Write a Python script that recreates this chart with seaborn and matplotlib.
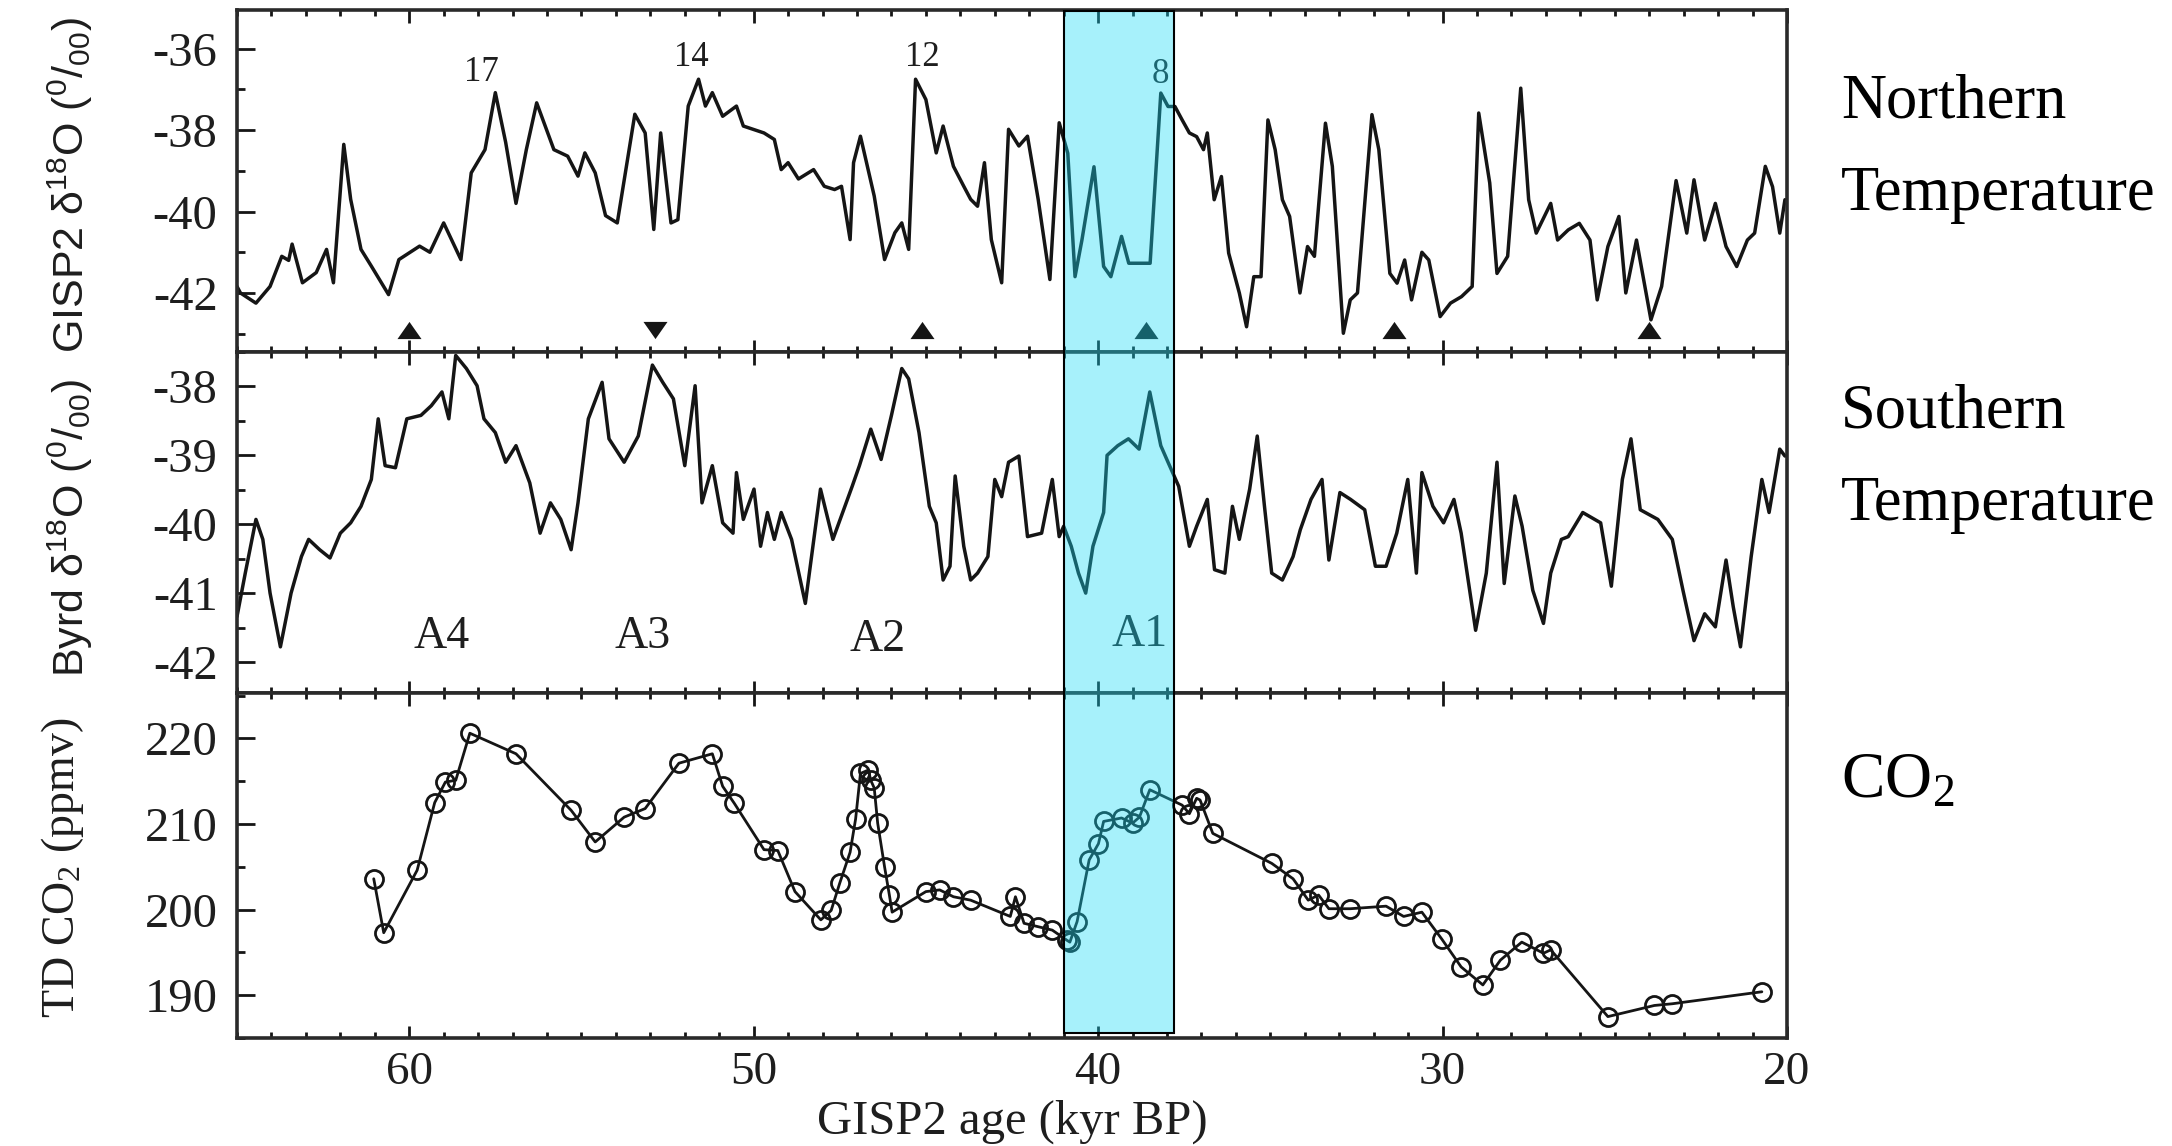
import matplotlib
matplotlib.use("Agg")
import matplotlib.pyplot as plt
import matplotlib.transforms as mtransforms
from matplotlib.patches import Rectangle
from matplotlib.ticker import MultipleLocator
import seaborn as sns

# --- GISP2 d18O (northern temperature) ---
gisp2_age = [65.0, 64.9, 64.45, 64.04, 63.7, 63.5, 63.4, 63.1, 62.7, 62.4, 62.2, 61.9,
             61.7, 61.4, 61.1, 60.6, 60.3, 59.7, 59.4, 59.0, 58.5, 58.2, 57.8, 57.5,
             57.2, 56.9, 56.6, 56.3, 55.8, 55.4, 55.1, 54.9, 54.6, 54.3, 53.96, 53.45,
             53.15, 52.9, 52.7, 52.4, 52.2, 51.9, 51.6, 51.4, 51.2, 50.9, 50.5, 50.3,
             49.7, 49.4, 49.2, 49.0, 48.7, 48.26, 47.95, 47.65, 47.45, 47.2, 47.1, 46.9,
             46.5, 46.2, 45.9, 45.7, 45.5, 45.3, 45.0, 44.7, 44.5, 44.2, 43.9, 43.7,
             43.5, 43.3, 43.1, 42.8, 42.6, 42.3, 42.05, 41.74, 41.4, 41.13, 40.88, 40.67,
             40.47, 40.12, 39.84, 39.63, 39.32, 39.11, 38.7, 38.49, 38.18, 37.97, 37.77,
             37.56, 37.35, 37.14, 36.94, 36.83, 36.63, 36.42, 36.21, 35.9, 35.69, 35.48,
             35.27, 35.07, 34.86, 34.65, 34.44, 34.14, 33.92, 33.72, 33.4, 33.2, 32.88,
             32.68, 32.47, 32.05, 31.85, 31.53, 31.32, 31.1, 30.9, 30.6, 30.4, 30.07,
             29.77, 29.45, 29.14, 28.95, 28.63, 28.42, 28.11, 27.73, 27.5, 27.28, 26.86,
             26.66, 26.35, 26.03, 25.72, 25.51, 25.2, 24.88, 24.68, 24.37, 23.95, 23.64,
             23.22, 22.91, 22.7, 22.39, 22.08, 21.77, 21.46, 21.15, 20.94, 20.63, 20.42,
             20.21, 20.06]
gisp2_d18o = [-41.84, -42.0, -42.25, -41.84, -41.1, -41.2, -40.8, -41.75, -41.5, -40.93,
              -41.75, -38.35, -39.7, -40.93, -41.34, -42.04, -41.18, -40.85, -41.0, -40.28,
              -41.18, -39.05, -38.48, -37.08, -38.3, -39.8, -38.48, -37.33, -38.48, -38.64,
              -39.13, -38.56, -39.05, -40.1, -40.28, -37.61, -38.07, -40.44, -38.07, -40.28,
              -40.2, -37.41, -36.75, -37.41, -37.08, -37.66, -37.41, -37.9, -38.07, -38.23,
              -38.97, -38.8, -39.2, -38.97, -39.38, -39.46, -39.38, -40.69, -38.8, -38.15,
              -39.62, -41.18, -40.52, -40.28, -40.93, -36.75, -37.25, -38.56, -37.9, -38.89,
              -39.38, -39.7, -39.87, -38.8, -40.69, -41.75, -37.98, -38.39, -38.15, -39.7,
              -41.67, -37.82, -38.57, -41.6, -40.7, -38.9, -41.35, -41.6, -40.61, -41.27,
              -41.27, -41.27, -37.09, -37.42, -37.42, -37.75, -38.07, -38.16, -38.48, -38.07,
              -39.71, -39.14, -41.02, -42.0, -42.83, -41.6, -41.6, -37.75, -38.48, -39.71,
              -40.12, -42.0, -40.86, -41.1, -37.83, -38.89, -42.99, -42.17, -42.0, -37.62,
              -38.48, -41.52, -41.76, -41.19, -42.17, -41.0, -41.19, -42.58, -42.25, -42.09,
              -41.84, -37.58, -39.3, -41.52, -41.1, -36.97, -39.71, -40.53, -39.8, -40.7,
              -40.45, -40.29, -40.7, -42.17, -40.86, -40.12, -42.0, -40.7, -42.66, -41.84,
              -39.24, -40.53, -39.22, -40.7, -39.8, -40.86, -41.35, -40.7, -40.53, -38.89,
              -39.39, -40.53, -39.71]

# --- Byrd d18O (southern temperature) ---
byrd_age = [65.0, 64.76, 64.45, 64.25, 64.04, 63.74, 63.43, 63.13, 62.92, 62.6, 62.3,
            62.0, 61.7, 61.4, 61.1, 60.9, 60.7, 60.4, 60.07, 59.66, 59.36, 59.05, 58.85,
            58.65, 58.34, 58.03, 57.83, 57.5, 57.2, 56.9, 56.5, 56.2, 55.9, 55.6, 55.3,
            55.1, 54.8, 54.4, 54.2, 53.76, 53.35, 52.94, 52.64, 52.33, 52.0, 51.7, 51.5,
            51.2, 50.9, 50.6, 50.5, 50.3, 49.99, 49.8, 49.6, 49.4, 49.2, 48.9, 48.5,
            48.06, 47.7, 47.14, 46.93, 46.6, 46.3, 46.0, 45.7, 45.5, 45.2, 44.9, 44.7,
            44.5, 44.3, 44.15, 43.9, 43.7, 43.5, 43.2, 43.0, 42.8, 42.6, 42.3, 42.05,
            41.64, 41.33, 41.13, 41.0, 40.78, 40.57, 40.36, 40.15, 39.84, 39.74, 39.43,
            39.12, 38.81, 38.5, 38.18, 37.97, 37.66, 37.35, 37.14, 36.83, 36.62, 36.32,
            36.1, 35.9, 35.6, 35.38, 35.17, 34.96, 34.65, 34.34, 34.13, 33.82, 33.5,
            33.3, 32.98, 32.67, 32.26, 31.95, 31.64, 31.33, 31.01, 30.76, 30.6, 30.28,
            29.97, 29.67, 29.46, 29.04, 28.73, 28.42, 28.21, 27.9, 27.69, 27.38, 27.07,
            26.86, 26.55, 26.35, 25.93, 25.41, 25.1, 24.78, 24.53, 24.26, 23.75, 23.33,
            23.02, 22.7, 22.39, 22.08, 21.77, 21.56, 21.35, 21.04, 20.73, 20.52, 20.21,
            20.06]
byrd_d18o = [-41.34, -40.71, -39.93, -40.22, -41.0, -41.78, -41.0, -40.47, -40.22, -40.37,
             -40.49, -40.13, -39.98, -39.74, -39.35, -38.47, -39.15, -39.18, -38.47, -38.42,
             -38.28, -38.08, -38.47, -37.55, -37.74, -37.99, -38.47, -38.67, -39.1, -38.86,
             -39.4, -40.13, -39.69, -39.93, -40.37, -39.69, -38.47, -37.94, -38.76, -39.1,
             -38.72, -37.69, -37.94, -38.18, -39.15, -37.99, -39.69, -39.15, -39.98, -40.13,
             -39.25, -39.93, -39.49, -40.32, -39.83, -40.22, -39.83, -40.22, -41.15, -39.49,
             -40.22, -39.45, -39.15, -38.62, -39.06, -38.42, -37.74, -37.89, -38.67, -39.74,
             -39.98, -40.81, -40.61, -39.3, -40.32, -40.81, -40.71, -40.47, -39.35, -39.6,
             -39.1, -39.01, -40.18, -40.13, -39.35, -40.18, -40.03, -40.32, -40.71, -41.0,
             -40.32, -39.83, -39.0, -38.86, -38.76, -38.91, -38.08, -38.86, -39.1, -39.45,
             -40.32, -40.03, -39.64, -40.66, -40.71, -39.74, -40.22, -39.49, -38.72, -39.74,
             -40.71, -40.81, -40.47, -40.08, -39.64, -39.35, -40.52, -39.54, -39.64, -39.79,
             -40.61, -40.61, -40.13, -39.35, -40.71, -39.25, -39.74, -39.98, -39.64, -40.13,
             -41.54, -40.71, -39.1, -40.86, -39.59, -40.03, -40.96, -41.44, -40.71, -40.22,
             -40.18, -39.83, -39.98, -40.9, -39.35, -38.76, -39.79, -39.93, -40.22, -40.96,
             -41.69, -41.3, -41.49, -40.52, -41.2, -41.78, -40.47, -39.35, -39.83, -38.91,
             -39.01]

# --- Taylor Dome CO2 ---
co2_age = [61.03, 60.74, 59.77, 59.26, 58.95, 58.65, 58.24, 56.9, 55.3, 54.6, 53.76,
           53.15, 52.17, 51.2, 50.9, 50.56, 49.7, 49.3, 48.8, 48.05, 47.75, 47.5, 47.2,
           47.04, 46.9, 46.67, 46.6, 46.5, 46.4, 46.2, 46.06, 45.98, 45.0, 44.6, 44.2,
           43.7, 42.55, 42.4, 42.15, 41.74, 41.33, 40.9, 40.82, 40.61, 40.26, 39.99,
           39.84, 39.32, 39.0, 38.8, 38.5, 37.56, 37.35, 37.14, 37.04, 36.67, 34.96,
           34.34, 33.9, 33.6, 33.3, 32.68, 31.64, 31.13, 30.6, 30.03, 29.46, 28.83,
           28.32, 27.7, 27.07, 26.86, 25.2, 23.85, 23.33, 20.73]
co2_ppmv = [203.6, 197.3, 204.6, 212.5, 214.9, 215.1, 220.6, 218.2, 211.6, 207.9, 210.8,
            211.8, 217.1, 218.2, 214.4, 212.4, 207.0, 206.9, 202.1, 198.8, 199.9, 203.1,
            206.7, 210.6, 215.9, 216.3, 215.1, 214.2, 210.1, 205.0, 201.7, 199.7, 202.1,
            202.3, 201.5, 201.1, 199.2, 201.5, 198.4, 198.0, 197.6, 196.4, 196.2, 198.6,
            205.8, 207.7, 210.3, 210.7, 210.1, 210.8, 214.0, 212.2, 211.2, 213.0, 212.8,
            208.9, 205.4, 203.6, 201.1, 201.7, 200.1, 200.1, 200.4, 199.2, 199.7, 196.6,
            193.3, 191.2, 194.1, 196.2, 194.9, 195.3, 187.5, 188.8, 189.0, 190.4]

# event markers on the GISP2 panel (up / down triangles)
events_up = [60.0, 45.1, 38.6, 31.4, 24.0]
events_down = [52.85]
event_level = -42.9

# interstadial numbers and Antarctic warm events
is_labels = ["17", "14", "12", "8"]
is_age = [57.9, 51.8, 45.1, 38.2]
is_value = [-36.59, -36.22, -36.22, -36.64]
a_labels = ["A4", "A3", "A2", "A1"]
a_age = [59.05, 53.24, 46.4, 38.8]
a_value = [-41.63, -41.63, -41.68, -41.6]

# highlighted interval (kyr BP)
band_old, band_young = 41.0, 37.8

ink = "#151515"
txt = "#1e1e1e"

sns.set_style("white")
plt.rcParams["font.family"] = ["Liberation Serif", "DejaVu Serif"]
plt.rcParams["axes.unicode_minus"] = False
plt.rcParams["mathtext.fontset"] = "custom"
plt.rcParams["mathtext.rm"] = "Liberation Serif"

W, H = 2172, 1146
fig = plt.figure(figsize=(W / 100, H / 100), dpi=100)


def box(l, t, r, b):
    return [l / W, 1 - b / H, (r - l) / W, (b - t) / H]


ax1 = fig.add_axes(box(237, 10, 1787, 352))
ax2 = fig.add_axes(box(237, 352, 1787, 693), sharex=ax1)
ax3 = fig.add_axes(box(237, 693, 1787, 1038), sharex=ax1)

sns.lineplot(x=gisp2_age, y=gisp2_d18o, ax=ax1, color=ink, lw=2.5,
             sort=False, estimator=None)
sns.lineplot(x=byrd_age, y=byrd_d18o, ax=ax2, color=ink, lw=2.5,
             sort=False, estimator=None)
sns.lineplot(x=co2_age, y=co2_ppmv, ax=ax3, color=ink, lw=2.0, sort=False,
             estimator=None, marker="o", markersize=13, markerfacecolor="none",
             markeredgecolor=ink, markeredgewidth=2.0)

tri_up = [(-1.4, -1), (1.4, -1), (0, 1)]
tri_dn = [(-1.4, 1), (1.4, 1), (0, -1)]
sns.scatterplot(x=events_up, y=[event_level] * len(events_up), ax=ax1,
                marker=tri_up, s=300, color=ink, linewidth=0)
sns.scatterplot(x=events_down, y=[event_level] * len(events_down), ax=ax1,
                marker=tri_dn, s=300, color=ink, linewidth=0)

for lab, x, y in zip(is_labels, is_age, is_value):
    ax1.text(x, y, lab, ha="center", va="center", fontsize=25, color=txt)
for lab, x, y in zip(a_labels, a_age, a_value):
    ax2.text(x, y, lab, ha="center", va="center", fontsize=33, color=txt)

ax1.set_xlim(65, 20)
ax1.set_ylim(-43.45, -35.05)
ax2.set_ylim(-42.45, -37.5)
ax3.set_ylim(185, 225.3)

ax1.yaxis.set_major_locator(MultipleLocator(2))
ax1.yaxis.set_minor_locator(MultipleLocator(1))
ax2.yaxis.set_major_locator(MultipleLocator(1))
ax2.yaxis.set_minor_locator(MultipleLocator(0.5))
ax3.yaxis.set_major_locator(MultipleLocator(10))
ax3.yaxis.set_minor_locator(MultipleLocator(5))
ax3.xaxis.set_major_locator(MultipleLocator(10))
ax3.xaxis.set_minor_locator(MultipleLocator(1))

for ax in (ax1, ax2, ax3):
    ax.set_xlabel("")
    ax.set_ylabel("")
    for sp in ax.spines.values():
        sp.set_linewidth(2.6)
        sp.set_color("#2a2a2a")
    ax.tick_params(axis="x", which="both", direction="in", top=True, bottom=True,
                   width=2.0, color=ink, labelsize=34, labelcolor=txt, pad=10)
    ax.tick_params(axis="x", which="major", length=9)
    ax.tick_params(axis="x", which="minor", length=4.5)
    ax.tick_params(axis="y", which="both", direction="in", left=True, right=False,
                   width=2.0, color=ink, labelsize=35, labelcolor=txt, pad=14)
    ax.tick_params(axis="y", which="major", length=13)
    ax.tick_params(axis="y", which="minor", length=6)
ax1.tick_params(axis="x", labelbottom=False)
ax2.tick_params(axis="x", labelbottom=False)

# highlighted interval across all three panels, drawn over the traces
trans = mtransforms.blended_transform_factory(ax3.transData, fig.transFigure)
y_lo, y_hi = 1 - 1033 / H, 1 - 11 / H
fig.add_artist(Rectangle((band_old, y_lo), band_young - band_old, y_hi - y_lo,
                         transform=trans, facecolor="#1adcf7", alpha=0.385,
                         edgecolor="none", zorder=10))
fig.add_artist(Rectangle((band_old, y_lo), band_young - band_old, y_hi - y_lo,
                         transform=trans, fill=False, edgecolor="black",
                         lw=1.5, zorder=11))

# axis titles
sans = ["Liberation Sans", "DejaVu Sans"]
fig.text(70 / W, 1 - 185 / H,
         r"GISP2 $\mathregular{\delta^{18}}$O ($\mathregular{^{0}/_{00}}$)",
         rotation=90, ha="center", va="center", fontsize=31, family=sans, color=txt)
fig.text(70 / W, 1 - 528 / H,
         r"Byrd $\mathregular{\delta^{18}}$O ($\mathregular{^{0}/_{00}}$)",
         rotation=90, ha="center", va="center", fontsize=31, family=sans, color=txt)
fig.text(63 / W, 1 - 868 / H, r"TD CO$\mathregular{_2}$ (ppmv)",
         rotation=90, ha="center", va="center", fontsize=33, color=txt)
fig.text(1012 / W, 1 - 1134 / H, "GISP2 age (kyr BP)", ha="center",
         va="baseline", fontsize=35, color=txt)

# right-hand captions
right_x = 1841 / W
fig.text(right_x, 1 - 118 / H, "Northern", fontsize=45, va="baseline", color="black")
fig.text(right_x, 1 - 210 / H, "Temperature", fontsize=45, va="baseline", color="black")
fig.text(right_x, 1 - 428 / H, "Southern", fontsize=45, va="baseline", color="black")
fig.text(right_x, 1 - 520 / H, "Temperature", fontsize=45, va="baseline", color="black")
fig.text(right_x, 1 - 797 / H, r"CO$\mathregular{_2}$", fontsize=47, va="baseline",
         color="black")

fig.savefig("out.png", dpi=100, facecolor="white")
